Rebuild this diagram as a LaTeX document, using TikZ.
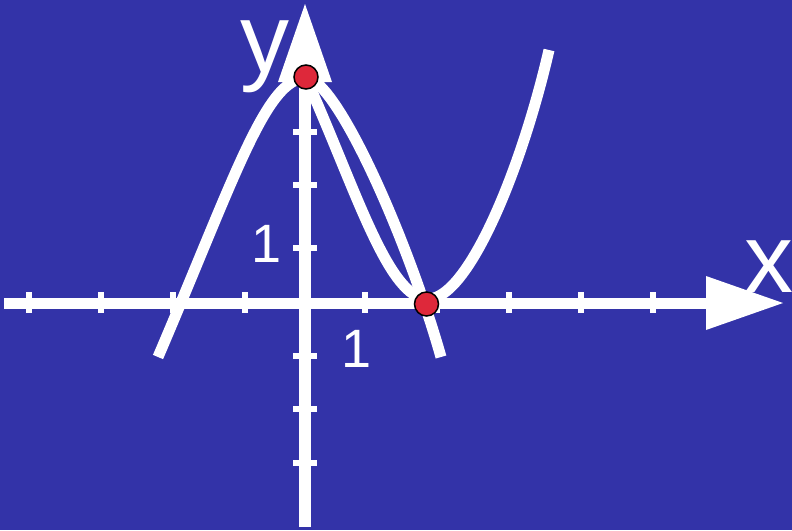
\documentclass[tikz,border=0pt]{standalone}
\usepackage{fontspec}
\setmainfont{Liberation Sans}
\definecolor{bg}{RGB}{51,51,168}
\definecolor{dotred}{RGB}{222,40,58}
\tikzset{
  xaxisline/.style={white,line width=11pt},
  yaxisline/.style={white,line width=12pt},
  tickmark/.style={white,line width=6pt},
  curveline/.style={white,line width=11pt},
  arrowhead/.style={fill=white,draw=none},
  pointdot/.style={circle,fill=dotred,draw=black,line width=1.5pt,minimum size=24pt,inner sep=0pt},
  axislabel/.style={white,font=\fontsize{98}{100}\selectfont,inner sep=0pt,anchor=base west},
  numlabel/.style={white,font=\fontsize{54}{56}\selectfont,inner sep=0pt,anchor=base west},
}
\begin{document}
\begin{tikzpicture}[x=1pt,y=-1pt]
\fill[bg] (0,0) rectangle (792,530);
\useasboundingbox (0,0) rectangle (792,530);
% key points
\coordinate (top) at (306,78);
\coordinate (bot) at (428,299);
\coordinate (leftend) at (158,357);
\coordinate (midend) at (441,357);
\coordinate (rightend) at (549,50);
% curves
\draw[curveline] (leftend) .. controls (235,177) and (266,78) .. (top)
  .. controls (336,78) and (407,237) .. (midend);
\draw[curveline] (top) .. controls (355.5,188) and (388,299) .. (bot)
  .. controls (468,299) and (521.4,170) .. (rightend);
% axes
\coordinate (xs) at (4,303);
\coordinate (xe) at (706,303);
\coordinate (ys) at (305,527);
\coordinate (ye) at (305,82);
\draw[xaxisline] (xs) -- (xe);
\draw[yaxisline] (ys) -- (ye);
\fill[arrowhead] (706,276) -- (783,303) -- (706,330) -- cycle;
\fill[arrowhead] (278,82) -- (305,4) -- (332,82) -- cycle;
% ticks
\foreach \x in {29,101,173,245,365,437,509,581,653}
  \draw[tickmark] (\x,292) -- (\x,313);
\foreach \y in {132,185,248,356,409,463}
  \draw[tickmark] (293,\y) -- (317,\y);
% labels
\node[axislabel] (ylab) at (240,72) {y};
\node[axislabel] (xlab) at (744,292) {x};
\node[numlabel] (oney) at (251,262) {1};
\node[numlabel] (onex) at (341,367) {1};
% intersection points
\node[pointdot] (p1) at (306,77) {};
\node[pointdot] (p2) at (426.5,304) {};
\end{tikzpicture}
\end{document}
